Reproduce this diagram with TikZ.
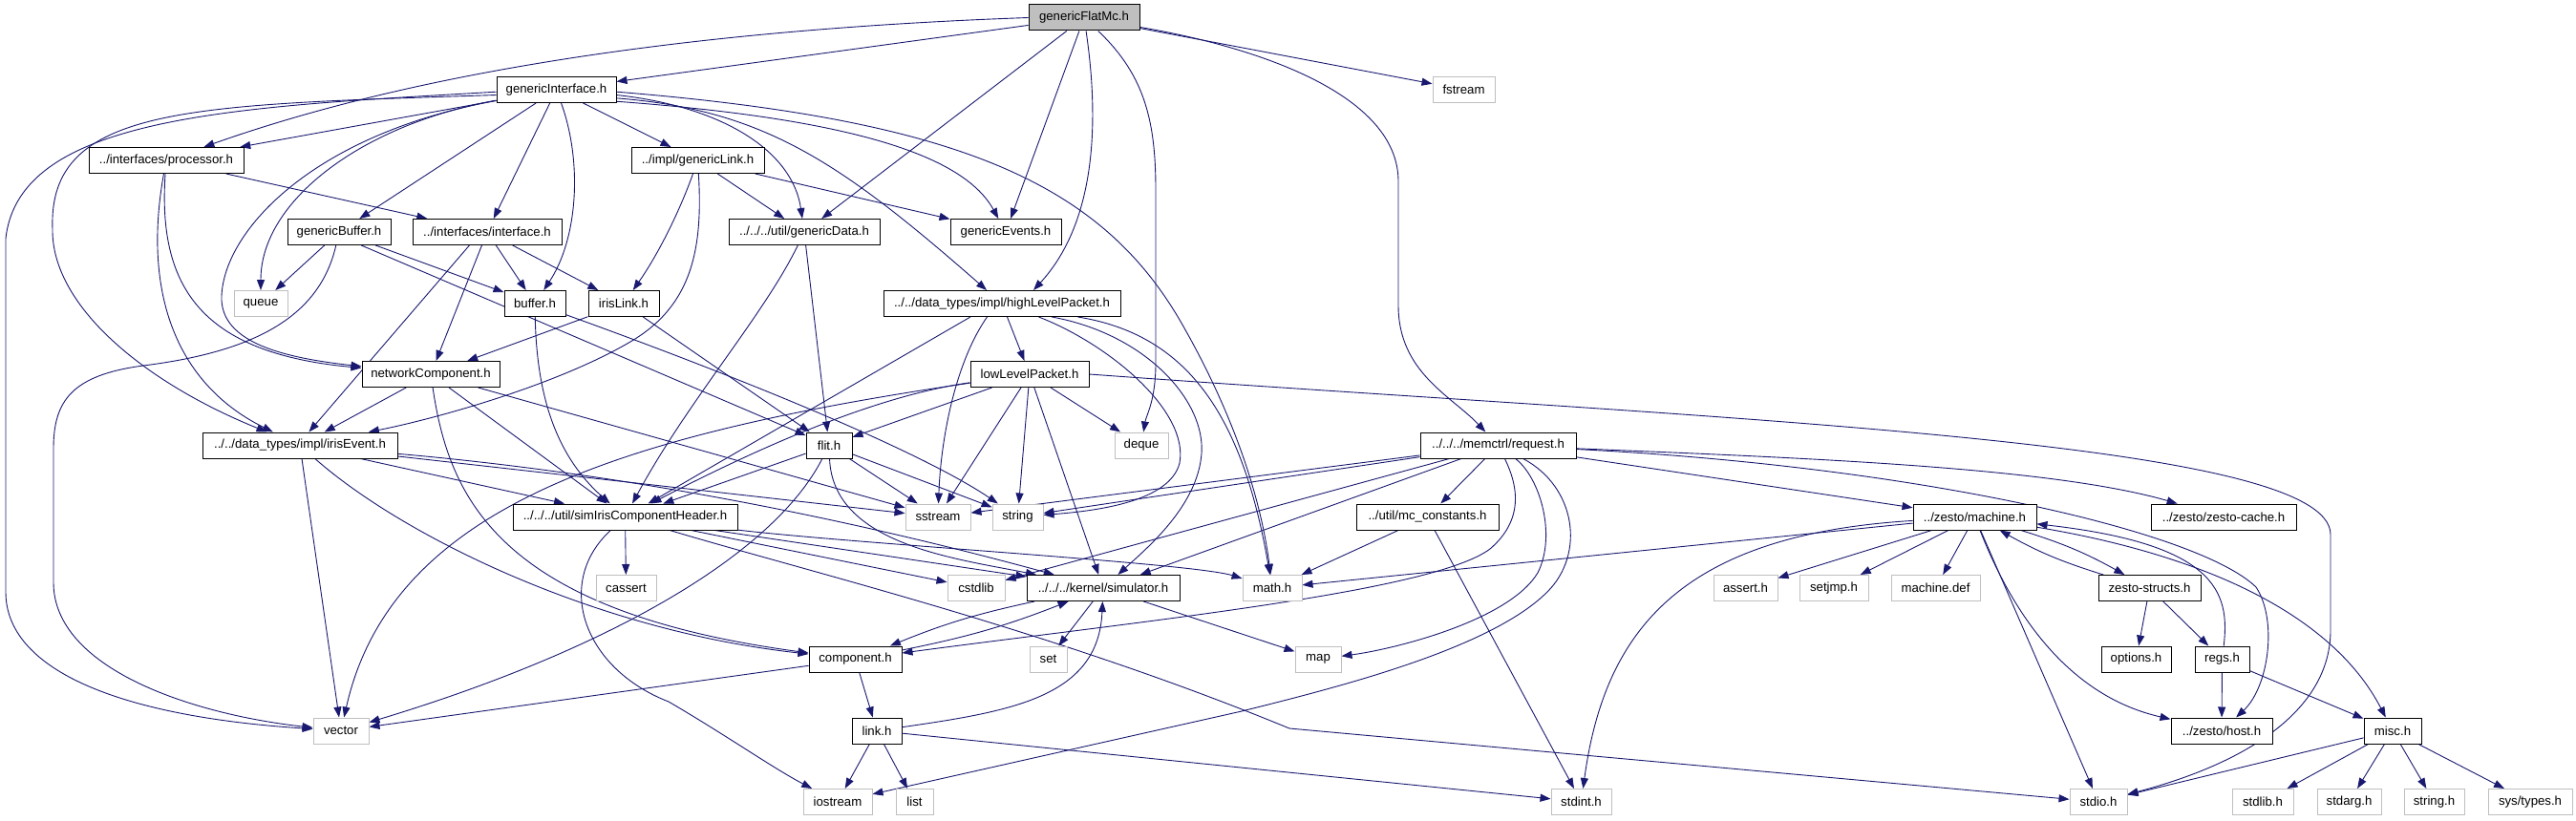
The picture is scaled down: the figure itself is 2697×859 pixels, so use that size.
\documentclass[tikz,border=0pt]{standalone}
\usepackage{fontspec}
\setmainfont{Liberation Sans}
\usetikzlibrary{arrows.meta}
\pgfdeclarelayer{bg}
\pgfdeclarelayer{paper}
\pgfsetlayers{paper,bg,main}
\definecolor{edgec}{HTML}{191970}
\definecolor{grayb}{HTML}{BFBFBF}
\tikzset{
 fbox/.style={draw=black, line width=1pt, fill=white, minimum height=27pt, inner sep=0pt, font=\fontsize{13.2}{15}\selectfont, text=black},
 sbox/.style={fbox, draw=grayb},
 rbox/.style={fbox, fill=grayb},
 edge/.style={draw=edgec, line width=0.9pt, -{Triangle[length=11pt,width=8pt]}},
}
\begin{document}
\begin{tikzpicture}[x=1pt,y=-1pt]
\useasboundingbox (0,0) rectangle (2697,859);
\begin{pgfonlayer}{paper}
\fill[white] (0,0) rectangle (2697,859);
\end{pgfonlayer}
% nodes
\node[rbox,minimum width=116] (gf) at (1135,18.5) {genericFlatMc.h};
\node[fbox,minimum width=125] (gi) at (582.5,94) {genericInterface.h};
\node[sbox,minimum width=65] (fs) at (1532.5,94) {fstream};
\node[fbox,minimum width=162] (pr) at (174,168) {../interfaces/processor.h};
\node[fbox,minimum width=139] (gl) at (730.5,168) {../impl/genericLink.h};
\node[fbox,minimum width=108] (gb) at (355,243) {genericBuffer.h};
\node[fbox,minimum width=156] (ifc) at (510,243) {../interfaces/interface.h};
\node[fbox,minimum width=158] (gd) at (842,243) {../../../util/genericData.h};
\node[fbox,minimum width=116] (ge) at (1053,243) {genericEvents.h};
\node[sbox,minimum width=56] (qu) at (273,318) {queue};
\node[fbox,minimum width=64] (bf) at (560,318) {buffer.h};
\node[fbox,minimum width=74] (il) at (653,318) {irisLink.h};
\node[fbox,minimum width=248] (hlp) at (1049,318) {../../data\_types/impl/highLevelPacket.h};
\node[fbox,minimum width=144] (nc) at (451,392) {networkComponent.h};
\node[fbox,minimum width=124] (llp) at (1078,392) {lowLevelPacket.h};
\node[fbox,minimum width=204] (ie) at (314,466.5) {../../data\_types/impl/irisEvent.h};
\node[fbox,minimum width=48] (fl) at (868,466.5) {flit.h};
\node[sbox,minimum width=56] (dq) at (1195,466.5) {deque};
\node[fbox,minimum width=163] (rq) at (1568.5,466.5) {../../../memctrl/request.h};
\node[fbox,minimum width=235] (sim) at (654.5,541.5) {../../../util/simIrisComponentHeader.h};
\node[sbox,minimum width=68] (ss) at (982,541.5) {sstream};
\node[sbox,minimum width=53] (str) at (1065.5,541.5) {string};
\node[fbox,minimum width=149] (mc) at (1494.5,541.5) {../util/mc\_constants.h};
\node[fbox,minimum width=129] (mach) at (2067.5,541.5) {../zesto/machine.h};
\node[fbox,minimum width=152] (zc) at (2328,541.5) {../zesto/zesto-cache.h};
\node[sbox,minimum width=63] (cas) at (655.5,616) {cassert};
\node[sbox,minimum width=60] (cstd) at (1022,616) {cstdlib};
\node[fbox,minimum width=160] (simu) at (1155,616) {../../../kernel/simulator.h};
\node[sbox,minimum width=62] (mth) at (1332,616) {math.h};
\node[sbox,minimum width=67] (asrt) at (1827.5,616) {assert.h};
\node[sbox,minimum width=72] (sjmp) at (1920,616) {setjmp.h};
\node[sbox,minimum width=93] (mdef) at (2026.5,616) {machine.def};
\node[fbox,minimum width=107] (zs) at (2250.5,616) {zesto-structs.h};
\node[fbox,minimum width=97] (comp) at (895.5,690.5) {component.h};
\node[sbox,minimum width=39] (nset) at (1097.5,690.5) {set};
\node[sbox,minimum width=48] (nmap) at (1380,690.5) {map};
\node[fbox,minimum width=73] (opt) at (2236.5,690.5) {options.h};
\node[fbox,minimum width=57] (regs) at (2326.5,690.5) {regs.h};
\node[sbox,minimum width=58] (vec) at (357,765.5) {vector};
\node[fbox,minimum width=52] (lnk) at (918,765.5) {link.h};
\node[fbox,minimum width=106] (host) at (2326,765.5) {../zesto/host.h};
\node[fbox,minimum width=60] (misc) at (2505,765.5) {misc.h};
\node[sbox,minimum width=72] (ios) at (877,840) {iostream};
\node[sbox,minimum width=39] (lst) at (957.5,840) {list};
\node[sbox,minimum width=63] (sint) at (1655.5,840) {stdint.h};
\node[sbox,minimum width=60] (sio) at (2197,840) {stdio.h};
\node[sbox,minimum width=64] (slib) at (2369,840) {stdlib.h};
\node[sbox,minimum width=67] (sarg) at (2459.5,840) {stdarg.h};
\node[sbox,minimum width=63] (strh) at (2548.5,840) {string.h};
\node[sbox,minimum width=88] (syst) at (2649,840) {sys/types.h};

\begin{pgfonlayer}{bg}
% genericFlatMc.h
\draw[edge] (gf) -- (gi);
\draw[edge] (gf.west) .. controls (750,30) and (450,70) .. (pr);
\draw[edge] (gf) -- (fs);
\draw[edge] (gf) -- (gd);
\draw[edge] (gf) -- (ge);
\draw[edge] (gf) .. controls (1150,120) and (1150,230) .. (hlp.23.5);
\draw[edge] (gf) .. controls (1200,80) and (1210,130) .. (1210,200) -- (1210,380) .. controls (1210,420) and (1200,435) .. (dq);
\draw[edge] (gf) .. controls (1320,50) and (1464,100) .. (1464,190) -- (1464,320) .. controls (1464,390) and (1520,415) .. (rq);
% genericInterface.h
\draw[edge] (gi.182) .. controls (250,112) and (20,120) .. (6,250) -- (6,620) .. controls (6,700) and (120,750) .. (vec);
\draw[edge] (gi.185) .. controls (200,110) and (50,110) .. (55,240) .. controls (54,320) and (150,400) .. (ie);
\draw[edge] (gi) -- (pr);
\draw[edge] (gi) .. controls (380,130) and (273,210) .. (qu);
\draw[edge] (gi) .. controls (330,140) and (235,240) .. (232,310) .. controls (230,360) and (300,375) .. (nc);
\draw[edge] (gi) -- (gb);
\draw[edge] (gi) -- (ifc);
\draw[edge] (gi) .. controls (610,170) and (605,250) .. (bf);
\draw[edge] (gi) -- (gl);
\draw[edge] (gi.-5) .. controls (760,112) and (830,160) .. (gd);
\draw[edge] (gi.-11) .. controls (900,125) and (1010,165) .. (ge);
\draw[edge] (gi.-8) .. controls (800,115) and (880,170) .. (hlp);
\draw[edge] (gi.-2) .. controls (1000,125) and (1150,190) .. (1235,335) .. controls (1290,430) and (1320,520) .. (mth);
% processor.h
\draw[edge] (pr) -- (ifc);
\draw[edge] (pr) .. controls (150,300) and (180,400) .. (ie);
\draw[edge] (pr) .. controls (165,300) and (210,370) .. (nc);
% genericLink.h
\draw[edge] (gl) .. controls (712,220) and (690,265) .. (il);
\draw[edge] (gl) .. controls (736,260) and (725,320) .. (660,358) .. controls (580,405) and (450,440) .. (ie);
\draw[edge] (gl) -- (gd);
\draw[edge] (gl) -- (ge);
% genericBuffer.h
\draw[edge] (gb) -- (qu);
\draw[edge] (gb) -- (bf);
\draw[edge] (gb.-31) -- (fl);
\draw[edge] (gb) .. controls (335,330) and (270,368) .. (150,383) .. controls (75,393) and (56,420) .. (56,470) -- (56,610) .. controls (56,700) and (200,748) .. (vec);
% interface.h
\draw[edge] (ifc) -- (bf);
\draw[edge] (ifc) -- (il);
\draw[edge] (ifc) -- (nc);
\draw[edge] (ifc.-143) -- (ie.56);
% irisLink.h, buffer.h
\draw[edge] (il) -- (nc);
\draw[edge] (il) -- (fl);
\draw[edge] (bf) .. controls (562,420) and (585,480) .. (sim);
\draw[edge] (bf) .. controls (760,390) and (960,470) .. (str);
% genericData.h
\draw[edge] (gd) -- (fl);
\draw[edge] (gd) .. controls (800,330) and (720,420) .. (sim);
% highLevelPacket.h
\draw[edge] (hlp) -- (llp);
\draw[edge] (hlp.-157) -- (sim);
\draw[edge] (hlp.-138) .. controls (1000,380) and (985,460) .. (ss);
\draw[edge] (hlp.-20) .. controls (1160,360) and (1245,430) .. (1235,485) .. controls (1225,525) and (1150,535) .. (str);
\draw[edge] (hlp.-15) .. controls (1200,350) and (1262,420) .. (1258,475) .. controls (1254,530) and (1200,575) .. (simu);
\draw[edge] (hlp.-10) .. controls (1240,350) and (1300,430) .. (mth);
% lowLevelPacket.h
\draw[edge] (llp) -- (fl);
\draw[edge] (llp) .. controls (950,410) and (850,440) .. (sim);
\draw[edge] (llp) .. controls (650,455) and (410,530) .. (vec);
\draw[edge] (llp) -- (ss);
\draw[edge] (llp) -- (str);
\draw[edge] (llp) -- (simu);
\draw[edge] (llp) -- (dq);
\draw[edge] (llp.east) .. controls (1800,440) and (2440,460) .. (2440,560) -- (2440,660) .. controls (2440,745) and (2350,800) .. (sio);
% irisEvent.h
\draw[edge] (ie) -- (vec);
\draw[edge] (ie) .. controls (420,560) and (620,660) .. (comp);
\draw[edge] (ie) -- (sim);
\draw[edge] (ie) -- (ss);
\draw[edge] (ie) .. controls (700,500) and (950,560) .. (simu);
% networkComponent.h
\draw[edge] (nc) -- (ie);
\draw[edge] (nc) .. controls (470,520) and (520,640) .. (comp);
\draw[edge] (nc) -- (sim);
\draw[edge] (nc) -- (ss);
% flit.h
\draw[edge] (fl) .. controls (810,580) and (640,680) .. (vec);
\draw[edge] (fl) -- (sim);
\draw[edge] (fl) -- (ss);
\draw[edge] (fl) -- (str);
\draw[edge] (fl) .. controls (872,570) and (1000,585) .. (simu);
% simIrisComponentHeader.h
\draw[edge] (sim) -- (cas);
\draw[edge] (sim) -- (cstd);
\draw[edge] (sim) -- (simu);
\draw[edge] (sim) .. controls (900,570) and (1250,590) .. (mth);
\draw[edge] (sim) .. controls (850,600) and (1100,660) .. (1350,763) -- (sio);
\draw[edge] (sim) .. controls (580,610) and (610,700) .. (700,735) .. controls (760,770) and (810,805) .. (ios);
% simulator.h, component.h, link.h
\draw[edge] (simu) -- (nset);
\draw[edge] (simu) -- (nmap);
\draw[edge] (simu) to[bend right=5] (comp);
\draw[edge] (comp) to[bend right=5] (simu);
\draw[edge] (comp) -- (vec);
\draw[edge] (comp) -- (lnk);
\draw[edge] (lnk) .. controls (1060,745) and (1150,730) .. (simu);
\draw[edge] (lnk) -- (ios);
\draw[edge] (lnk) -- (lst);
\draw[edge] (lnk) -- (sint);
% request.h
\draw[edge] (rq) -- (mc);
\draw[edge] (rq) -- (ss);
\draw[edge] (rq) -- (str);
\draw[edge] (rq) -- (cstd);
\draw[edge] (rq) -- (simu);
\draw[edge] (rq) .. controls (1590,510) and (1595,545) .. (1560,575) .. controls (1500,620) and (1200,650) .. (comp);
\draw[edge] (rq) .. controls (1612,500) and (1630,560) .. (1610,600) .. controls (1580,650) and (1460,680) .. (nmap);
\draw[edge] (rq) .. controls (1650,510) and (1660,580) .. (1620,620) .. controls (1560,680) and (1400,720) .. (1300,745) -- (ios);
\draw[edge] (rq) -- (mach);
\draw[edge] (rq) .. controls (1900,480) and (2150,490) .. (zc);
\draw[edge] (rq) .. controls (2000,488) and (2300,555) .. (2362,615) .. controls (2385,650) and (2375,720) .. (host);
% mc_constants.h
\draw[edge] (mc) -- (mth);
\draw[edge] (mc) -- (sint);
% machine.h
\draw[edge] (mach) -- (mth);
\draw[edge] (mach) .. controls (1760,560) and (1680,660) .. (sint);
\draw[edge] (mach) -- (asrt);
\draw[edge] (mach) -- (sjmp);
\draw[edge] (mach) -- (mdef);
\draw[edge] (mach) -- (sio);
\draw[edge] (mach) .. controls (2110,650) and (2170,730) .. (host);
\draw[edge] (mach) to[bend left=6] (zs);
\draw[edge] (zs) to[bend left=6] (mach);
\draw[edge] (mach) .. controls (2300,580) and (2440,640) .. (misc);
% zesto-structs.h, regs.h
\draw[edge] (zs) -- (opt);
\draw[edge] (zs) -- (regs);
\draw[edge] (regs) .. controls (2335,620) and (2320,570) .. (mach);
\draw[edge] (regs) -- (host);
\draw[edge] (regs) -- (misc);
% misc.h
\draw[edge] (misc) -- (sio);
\draw[edge] (misc) -- (slib);
\draw[edge] (misc) -- (sarg);
\draw[edge] (misc) -- (strh);
\draw[edge] (misc) -- (syst);
\end{pgfonlayer}
\end{tikzpicture}
\end{document}
